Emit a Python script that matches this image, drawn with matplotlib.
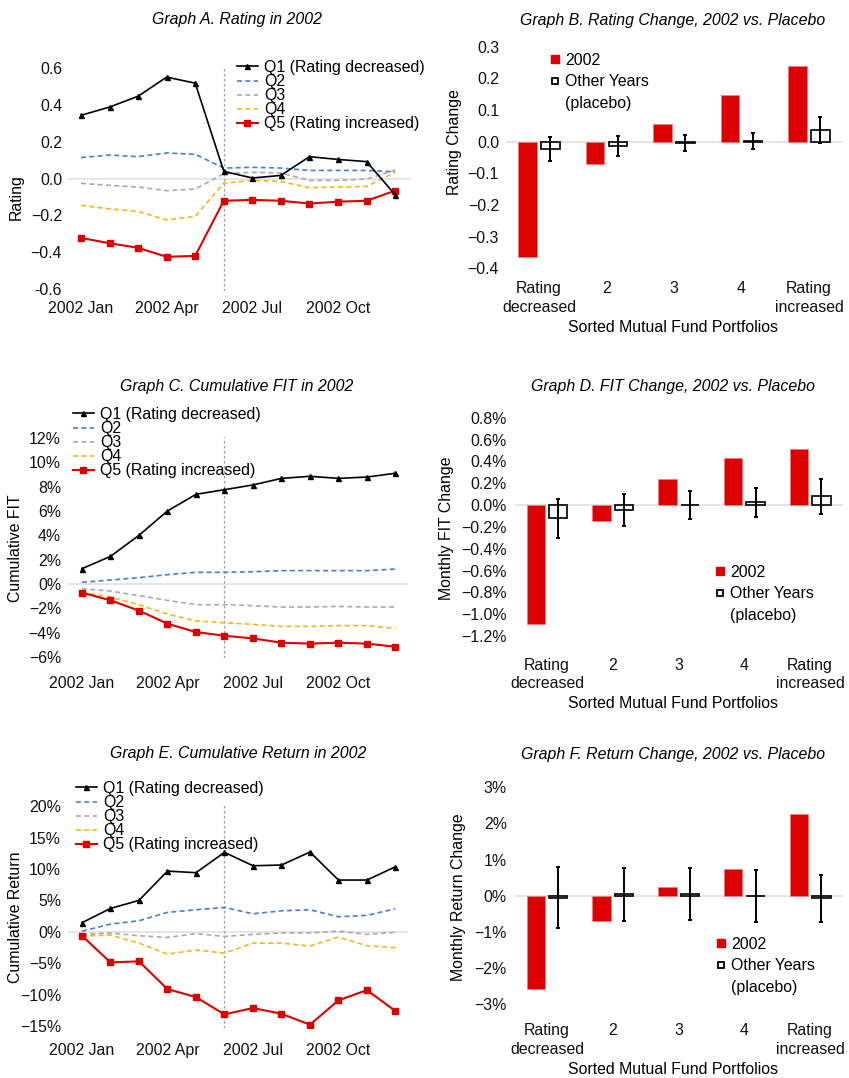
import matplotlib
matplotlib.use("Agg")
import matplotlib.pyplot as plt
from matplotlib.lines import Line2D
import numpy as np

# ---------------- data ----------------
months = ["Jan", "Feb", "Mar", "Apr", "May", "Jun", "Jul", "Aug", "Sep", "Oct", "Nov", "Dec"]
month_tick_idx = [0, 3, 6, 9]
month_tick_labels = ["2002 Jan", "2002 Apr", "2002 Jul", "2002 Oct"]
event_month = 5  # June

series_names = ["Q1 (Rating decreased)", "Q2", "Q3", "Q4", "Q5 (Rating increased)"]

a_q1 = [0.345, 0.39, 0.449, 0.553, 0.52, 0.04, 0.004, 0.018, 0.12, 0.105, 0.093, -0.087]
a_q2 = [0.115, 0.129, 0.12, 0.14, 0.133, 0.058, 0.062, 0.058, 0.045, 0.045, 0.045, 0.038]
a_q3 = [-0.025, -0.036, -0.045, -0.065, -0.056, 0.027, 0.035, 0.031, -0.009, -0.009, -0.002, 0.047]
a_q4 = [-0.145, -0.164, -0.178, -0.224, -0.205, -0.024, -0.009, -0.015, -0.049, -0.045, -0.042, 0.035]
a_q5 = [-0.322, -0.351, -0.376, -0.425, -0.42, -0.12, -0.115, -0.12, -0.135, -0.125, -0.12, -0.065]

c_q1 = [1.26, 2.27, 4.0, 6.0, 7.37, 7.75, 8.14, 8.68, 8.85, 8.68, 8.79, 9.1]
c_q2 = [0.14, 0.33, 0.52, 0.77, 0.96, 0.96, 1.01, 1.1, 1.1, 1.1, 1.1, 1.23]
c_q3 = [-0.38, -0.58, -0.96, -1.34, -1.7, -1.7, -1.78, -1.89, -1.89, -1.84, -1.89, -1.89]
c_q4 = [-0.68, -1.07, -1.7, -2.47, -3.04, -3.18, -3.32, -3.48, -3.48, -3.42, -3.42, -3.64]
c_q5 = [-0.71, -1.34, -2.19, -3.26, -3.95, -4.25, -4.47, -4.82, -4.9, -4.82, -4.9, -5.15]

e_q1 = [1.43, 3.71, 4.99, 9.66, 9.4, 12.64, 10.51, 10.62, 12.69, 8.23, 8.23, 10.35]
e_q2 = [0.1, 1.21, 1.75, 3.08, 3.5, 3.87, 2.86, 3.33, 3.5, 2.39, 2.6, 3.66]
e_q3 = [-0.42, -0.2, -0.64, -0.91, -0.3, -0.75, -0.42, -0.2, -0.2, 0.1, -0.42, -0.1]
e_q4 = [-0.69, -0.53, -1.81, -3.56, -2.92, -3.4, -1.81, -1.81, -2.28, -0.85, -2.23, -2.55]
e_q5 = [-0.64, -4.88, -4.72, -9.13, -10.41, -13.16, -12.15, -13.06, -14.8, -10.93, -9.29, -12.64]

categories = ["Rating\ndecreased", "2", "3", "4", "Rating\nincreased"]

b_2002 = [-0.365, -0.0705, 0.054, 0.146, 0.238]
b_placebo = [-0.022, -0.014, -0.004, 0.003, 0.036]
b_err = [0.038, 0.031, 0.026, 0.025, 0.041]

d_2002 = [-1.09, -0.144, 0.236, 0.43, 0.514]
d_placebo = [-0.121, -0.049, 0.003, 0.025, 0.08]
d_err = [0.18, 0.147, 0.127, 0.135, 0.162]

f_2002 = [-2.57, -0.69, 0.24, 0.73, 2.25]
f_placebo = [-0.05, 0.04, 0.04, 0.0, -0.07]
f_err = [0.84, 0.73, 0.72, 0.715, 0.655]

a_yticks = [0.6, 0.4, 0.2, 0.0, -0.2, -0.4, -0.6]
a_yticklabels = ["0.6", "0.4", "0.2", "0.0", "\u22120.2", "\u22120.4", "-0.6"]
c_yticks = [12, 10, 8, 6, 4, 2, 0, -2, -4, -6]
c_yticklabels = ["12%", "10%", "8%", "6%", "4%", "2%", "0%", "\u22122%", "\u22124%", "\u22126%"]
e_yticks = [20, 15, 10, 5, 0, -5, -10, -15]
e_yticklabels = ["20%", "15%", "10%", "5%", "0%", "\u22125%", "\u221210%", "\u221215%"]
b_yticks = [0.3, 0.2, 0.1, 0.0, -0.1, -0.2, -0.3, -0.4]
b_yticklabels = ["0.3", "0.2", "0.1", "0.0", "\u22120.1", "\u22120.2", "\u22120.3", "\u22120.4"]
d_yticks = [0.8, 0.6, 0.4, 0.2, 0.0, -0.2, -0.4, -0.6, -0.8, -1.0, -1.2]
d_yticklabels = ["0.8%", "0.6%", "0.4%", "0.2%", "0.0%", "\u22120.2%", "\u22120.4%", "\u22120.6%",
                 "\u22120.8%", "\u22121.0%", "\u22121.2%"]
f_yticks = [3, 2, 1, 0, -1, -2, -3]
f_yticklabels = ["3%", "2%", "1%", "0%", "\u22121%", "\u22122%", "\u22123%"]

# ---------------- style ----------------
plt.rcParams["font.family"] = ["Liberation Sans", "DejaVu Sans"]
FS = 11.4
plt.rcParams["font.size"] = FS

RED = "#dd0000"
BLUE = "#5577d4"
GRAY = "#aaaaaa"
YELLOW = "#f2b81b"

W, H = 849, 1078
fig = plt.figure(figsize=(W / 100, H / 100), dpi=100)


def axes_at(box):
    l, t, r, b = box
    return fig.add_axes([l / W, 1 - b / H, (r - l) / W, (b - t) / H])


def ax_coords(box, px, py):
    l, t, r, b = box
    return (px - l) / (r - l), (b - py) / (b - t)


def fig_coords(px, py):
    return px / W, 1 - py / H


def clean(ax):
    for s in ax.spines.values():
        s.set_visible(False)


line_styles = [
    dict(color="black", lw=1.2, marker="^", ms=3.6, zorder=5),
    dict(color=BLUE, lw=1.2, ls=(0, (3, 2)), zorder=3),
    dict(color=GRAY, lw=1.2, ls=(0, (3, 2)), zorder=3),
    dict(color=YELLOW, lw=1.2, ls=(0, (3, 2)), zorder=3),
    dict(color=RED, lw=1.5, marker="s", ms=4.8, zorder=4),
]


def line_panel(box, data, ylim, xlim, yticks, yticklabels, title, title_px, ylabel, ylabel_px,
               legend_px, xpad, ypad):
    ax = axes_at(box)
    clean(ax)
    x = np.arange(len(months))
    for vals, name, st in zip(data, series_names, line_styles):
        ax.plot(x, vals, label=name, **st)
    ax.axhline(0, color="#e0e0e0", lw=1.2, zorder=0.5)
    ax.axvline(event_month, color="#999999", lw=0.9, ls=(0, (2, 2)), zorder=0.6)
    ax.set_xlim(*xlim)
    ax.set_ylim(*ylim)
    ax.set_xticks(month_tick_idx)
    ax.set_xticklabels(month_tick_labels)
    ax.set_yticks(yticks)
    ax.set_yticklabels(yticklabels)
    ax.tick_params(axis="x", length=0, pad=xpad, colors="#111111")
    ax.tick_params(axis="y", length=0, pad=ypad, colors="#111111")
    tx, ty = ax_coords(box, *title_px)
    ax.set_title(title, style="italic", x=tx, y=ty, va="center", pad=0, fontsize=FS)
    ax.set_ylabel(ylabel, va="center")
    ax.yaxis.set_label_coords(*ax_coords(box, *ylabel_px))
    ax.legend(loc="upper left", bbox_to_anchor=fig_coords(*legend_px), bbox_transform=fig.transFigure,
              frameon=False, borderpad=0, borderaxespad=0, handlelength=1.3, handletextpad=0.4,
              labelspacing=-0.06, fontsize=FS)
    return ax


def bar_panel(box, v2002, vplac, verr, ylim, xlim, yticks, yticklabels, title, title_px, ylabel,
              ylabel_px, xlabel_px, legend_px, xpad, ypad):
    ax = axes_at(box)
    clean(ax)
    x = np.arange(len(categories))
    w = 0.28
    off = 0.17
    ax.axhline(0, color="#e0e0e0", lw=1.2, zorder=0.5)
    ax.bar(x - off, v2002, width=w, color=RED, edgecolor="#f08080", lw=0.6, zorder=2)
    ax.bar(x + off, vplac, width=w, color="white", edgecolor="#111111", lw=1.3, zorder=2)
    ax.errorbar(x + off, vplac, yerr=verr, fmt="none", ecolor="black", elinewidth=1.4,
                capsize=1.5, capthick=1.4, zorder=3)
    ax.set_xlim(*xlim)
    ax.set_ylim(*ylim)
    ax.set_xticks(x)
    ax.set_xticklabels(categories)
    for lab in ax.get_xticklabels():
        lab.set_linespacing(1.3)
    ax.set_yticks(yticks)
    ax.set_yticklabels(yticklabels)
    ax.tick_params(axis="x", length=0, pad=xpad, colors="#111111")
    ax.tick_params(axis="y", length=0, pad=ypad, colors="#111111")
    tx, ty = ax_coords(box, *title_px)
    ax.set_title(title, style="italic", x=tx, y=ty, va="center", pad=0, fontsize=FS)
    ax.set_ylabel(ylabel, va="center")
    ax.yaxis.set_label_coords(*ax_coords(box, *ylabel_px))
    ax.set_xlabel("Sorted Mutual Fund Portfolios", va="center")
    ax.xaxis.set_label_coords(*ax_coords(box, *xlabel_px))
    handles = [
        Line2D([], [], ls="none", marker="s", mfc=RED, mec=RED, ms=5.2),
        Line2D([], [], ls="none", marker="s", mfc="white", mec="black", mew=1.3, ms=4.8),
        Line2D([], [], ls="none"),
    ]
    ax.legend(handles, ["2002", "Other Years", "(placebo)"], loc="upper left",
              bbox_to_anchor=fig_coords(*legend_px), bbox_transform=fig.transFigure,
              frameon=False, borderpad=0, borderaxespad=0, handlelength=0.8, handletextpad=0.2,
              labelspacing=0.4, fontsize=FS)
    return ax


# Graph A
boxA = (68, 67, 410, 291)
line_panel(boxA, [a_q1, a_q2, a_q3, a_q4, a_q5], (-0.611, 0.608), (-0.455, 11.52),
           a_yticks, a_yticklabels, "Graph A. Rating in 2002", (237, 20), "Rating", (16, 197),
           (237, 60), 7.0, 4.3)

# Graph C
boxC = (68, 437, 408, 658)
line_panel(boxC, [c_q1, c_q2, c_q3, c_q4, c_q5], (-6.08, 12.08), (-0.49, 11.44),
           c_yticks, c_yticklabels, "Graph C. Cumulative FIT in 2002", (237, 386), "Cumulative FIT",
           (16, 548), (73, 407), 13.0, 5.0)

# Graph E
boxE = (68, 803, 408, 1028)
line_panel(boxE, [e_q1, e_q2, e_q3, e_q4, e_q5], (-15.33, 20.5), (-0.49, 11.44),
           e_yticks, e_yticklabels, "Graph E. Cumulative Return in 2002", (238, 754),
           "Cumulative Return", (16, 917), (76, 781), 11.0, 5.0)

# Graph B
boxB = (506, 45, 843, 273)
bar_panel(boxB, b_2002, b_placebo, b_err, (-0.415, 0.305), (-0.489, 4.504), b_yticks, b_yticklabels,
          "Graph B. Rating Change, 2002 vs. Placebo", (673, 20), "Rating Change", (455, 142),
          (673, 328), (549, 53), 5.8, 5.0)

# Graph D
boxD = (515, 416, 843, 648)
bar_panel(boxD, d_2002, d_placebo, d_err, (-1.31, 0.817), (-0.487, 4.50), d_yticks, d_yticklabels,
          "Graph D. FIT Change, 2002 vs. Placebo", (673, 386), "Monthly FIT Change", (447, 528),
          (673, 703), (714, 565), 7.0, 5.8)

# Graph F
boxF = (515, 783, 843, 1012)
bar_panel(boxF, f_2002, f_placebo, f_err, (-3.22, 3.12), (-0.487, 4.50), f_yticks, f_yticklabels,
          "Graph F. Return Change, 2002 vs. Placebo", (673, 754), "Monthly Return Change", (459, 897),
          (673, 1070), (715, 937), 8.0, 5.8)

fig.savefig("out.png", dpi=100)
